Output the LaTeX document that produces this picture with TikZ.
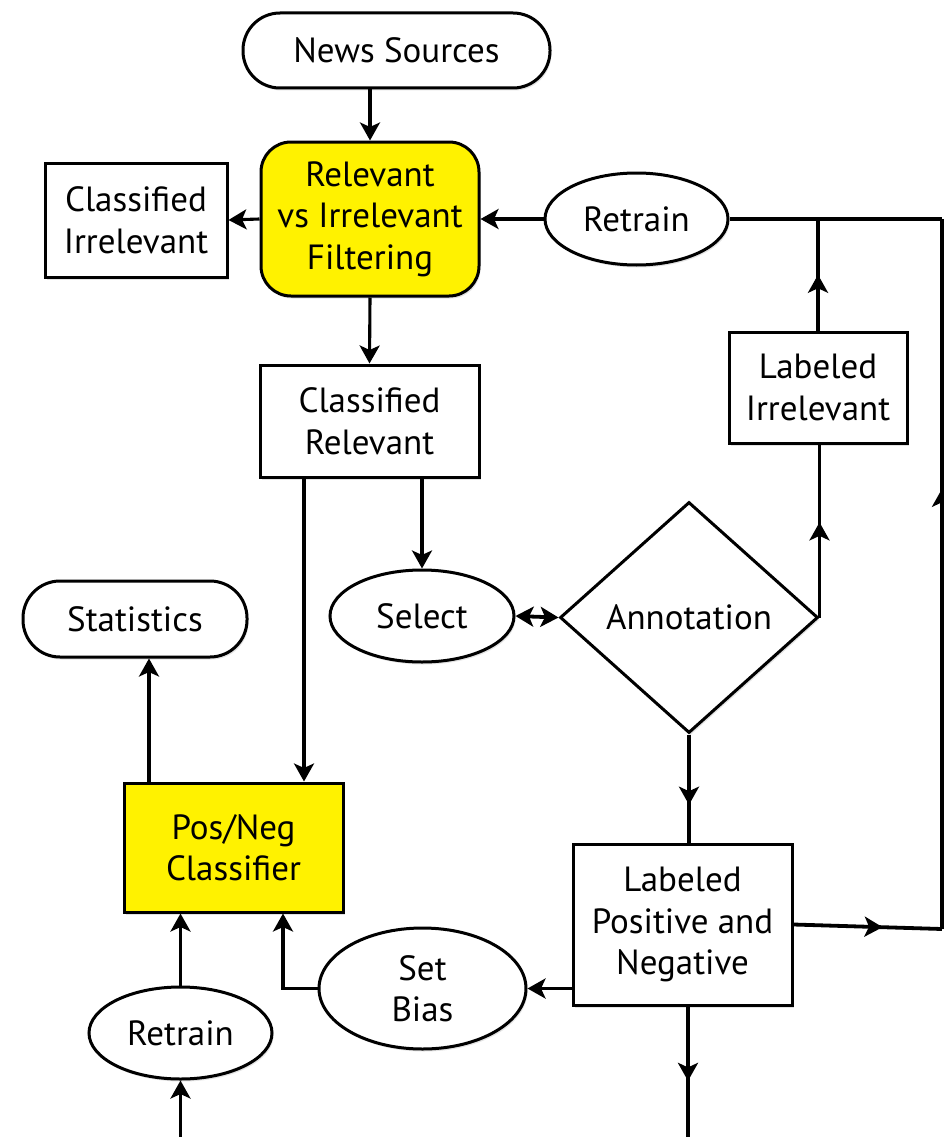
\documentclass[tikz,border=0pt]{standalone}
\usepackage{fontspec}
\setmainfont{PT Sans}
\usetikzlibrary{shapes.geometric,arrows.meta,decorations.markings,shadows,calc}
\tikzset{>={Stealth[length=18pt,width=20pt,inset=4.5pt]}}
\begin{document}
\begin{tikzpicture}[x=1pt,y=-1pt,
  font=\fontsize{35}{41.5}\selectfont,
  base/.style={draw=black,line width=3pt,fill=white,align=center,inner sep=0pt,
    drop shadow={shadow xshift=1.5pt,shadow yshift=-2.5pt,opacity=0.22}},
  box/.style={base,rectangle},
  pill/.style={base,rectangle,rounded corners=37pt},
  oval/.style={base,ellipse},
  dia/.style={base,diamond},
  yel/.style={fill=yellow},
  conn/.style={line width=3.1pt},
  heavy/.style={line width=3.8pt},
  arr/.style={conn,->},
  midarr/.style={postaction={decorate},decoration={markings,mark=at position #1 with {\arrow{>}}}},
]
\useasboundingbox[fill=white] (0,0) rectangle (943,1137);

% nodes
\node[pill,minimum width=307pt,minimum height=75pt] (news) at (396.5,50.5) {News Sources};
\node[box,yel,rounded corners=30pt,minimum width=218pt,minimum height=154pt] (rel) at (370,219) {Relevant\\vs Irrelevant\\Filtering};
\node[box,minimum width=182pt,minimum height=114pt] (cirr) at (136,220) {Classified\\Irrelevant};
\node[oval,minimum width=183pt,minimum height=92pt] (rt1) at (636.5,219) {Retrain};
\node[box,minimum width=219pt,minimum height=112pt] (crel) at (369.5,421) {Classified\\Relevant};
\node[box,minimum width=178pt,minimum height=111pt] (lirr) at (818,387.5) {Labeled\\Irrelevant};
\node[pill,minimum width=224pt,minimum height=76pt] (stats) at (135,619) {Statistics};
\node[oval,minimum width=184pt,minimum height=92pt] (sel) at (422,616) {Select};
\node[dia,minimum width=258pt,minimum height=231pt] (ann) at (689,617.5) {Annotation};
\node[box,yel,minimum width=219pt,minimum height=129pt] (pn) at (233.5,847.5) {Pos/Neg\\Classifier};
\node[box,minimum width=219pt,minimum height=161pt] (lpn) at (682.5,924.5) {Labeled\\Positive and\\Negative};
\node[oval,minimum width=207pt,minimum height=121pt] (sb) at (422.5,988.5) {Set\\Bias};
\node[oval,minimum width=183pt,minimum height=92pt] (rt2) at (180.5,1033) {Retrain};

\coordinate (cR1) at (942,929);
\coordinate (cR2) at (942,219);
\coordinate (cB1) at (688,1137);
\coordinate (cB2) at (180.5,1137);

% connectors
\draw[arr] (rel.north |- news.south) -- (rel.north);
\draw[arr] (rel.west) -- (cirr.east);
\draw[arr] (rt1.west) -- (rel.east);
\draw[arr] (rel.south) -- (crel.north);
\draw[arr] (sel.north |- crel.south) -- (sel.north);
\draw[arr] ([xshift=-65.5pt]crel.south) -- ([xshift=-65.5pt]crel.south |- pn.north);
\draw[arr] ([xshift=-84.5pt]pn.north) -- ([xshift=-84.5pt]pn.north |- stats.south);
\draw[heavy,<->] (sel.east) -- (ann.west);
\draw[heavy,midarr=0.55] (ann.east) -- (ann.east |- lirr.south);
\draw[heavy,midarr=0.5] (lirr.north) -- (lirr.north |- cR2);
\draw[heavy,midarr=0.65] (ann.south) -- (ann.south |- lpn.north);
\draw[heavy,midarr=0.6] (lpn.east) -- (cR1);
\draw[heavy,midarr=0.62] (cR1) -- (cR2);
\draw[heavy] (cR2) -- (rt1.east);
\draw[heavy,midarr=0.57] (lpn.south -| cB1) -- (cB1);
\draw[heavy,->] (sb.east -| lpn.west) -- (sb.east);
\draw[arr] (sb.west) -| ([xshift=49.5pt]pn.south);
\draw[arr] (rt2.north) -- (rt2.north |- pn.south);
\draw[arr] (cB2) -- (rt2.south);
\end{tikzpicture}
\end{document}
